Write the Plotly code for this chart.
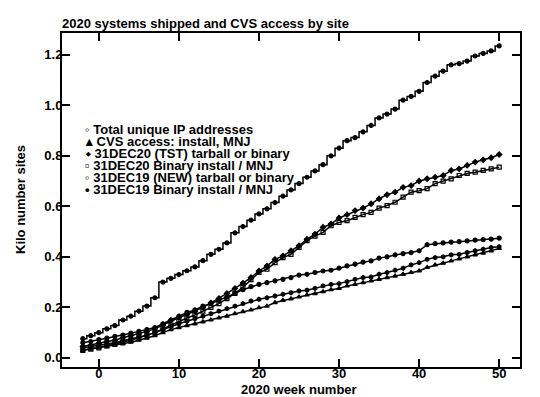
import plotly.graph_objects as go

weeks = list(range(-2, 51))

total_ip = [0.076, 0.088, 0.100, 0.115, 0.128, 0.150, 0.165, 0.185, 0.205, 0.238,
            0.300, 0.315, 0.330, 0.345, 0.360, 0.385, 0.410, 0.430, 0.455, 0.495,
            0.520, 0.545, 0.570, 0.590, 0.615, 0.640, 0.665, 0.690, 0.715, 0.740,
            0.765, 0.800, 0.830, 0.860, 0.872, 0.895, 0.920, 0.950, 0.965, 0.985,
            1.020, 1.035, 1.055, 1.090, 1.115, 1.135, 1.160, 1.165, 1.175, 1.195,
            1.205, 1.215, 1.235]

cvs_access = [0.030, 0.035, 0.040, 0.045, 0.050, 0.055, 0.062, 0.070, 0.078, 0.088,
              0.100, 0.112, 0.120, 0.128, 0.135, 0.143, 0.150, 0.158, 0.165, 0.175,
              0.183, 0.190, 0.199, 0.205, 0.219, 0.228, 0.234, 0.241, 0.249, 0.254,
              0.262, 0.270, 0.275, 0.285, 0.291, 0.298, 0.305, 0.311, 0.318, 0.324,
              0.331, 0.338, 0.344, 0.358, 0.368, 0.375, 0.384, 0.392, 0.400, 0.408,
              0.415, 0.424, 0.433]

dec20_tst = [0.045, 0.050, 0.058, 0.065, 0.070, 0.080, 0.088, 0.095, 0.105, 0.115,
             0.130, 0.148, 0.160, 0.172, 0.185, 0.200, 0.218, 0.235, 0.255, 0.275,
             0.296, 0.318, 0.344, 0.364, 0.390, 0.404, 0.424, 0.444, 0.470, 0.490,
             0.517, 0.530, 0.554, 0.567, 0.583, 0.593, 0.610, 0.630, 0.646, 0.656,
             0.675, 0.682, 0.700, 0.709, 0.715, 0.722, 0.742, 0.748, 0.762, 0.775,
             0.784, 0.792, 0.805]

dec20_bin = [0.030, 0.035, 0.040, 0.048, 0.055, 0.062, 0.070, 0.080, 0.090, 0.100,
             0.115, 0.130, 0.145, 0.158, 0.170, 0.185, 0.200, 0.215, 0.235, 0.255,
             0.280, 0.310, 0.338, 0.351, 0.377, 0.397, 0.410, 0.437, 0.464, 0.482,
             0.497, 0.523, 0.536, 0.543, 0.556, 0.567, 0.576, 0.593, 0.603, 0.616,
             0.636, 0.656, 0.662, 0.670, 0.690, 0.700, 0.709, 0.722, 0.730, 0.735,
             0.742, 0.748, 0.755]

dec19_new = [0.060, 0.065, 0.072, 0.078, 0.085, 0.090, 0.098, 0.105, 0.112, 0.120,
             0.135, 0.150, 0.165, 0.180, 0.190, 0.205, 0.215, 0.228, 0.240, 0.255,
             0.270, 0.282, 0.291, 0.298, 0.305, 0.311, 0.318, 0.328, 0.331, 0.338,
             0.344, 0.347, 0.355, 0.364, 0.371, 0.379, 0.384, 0.395, 0.400, 0.408,
             0.413, 0.417, 0.424, 0.448, 0.452, 0.455, 0.458, 0.460, 0.463, 0.466,
             0.468, 0.470, 0.474]

dec19_bin = [0.040, 0.045, 0.050, 0.055, 0.060, 0.068, 0.075, 0.082, 0.090, 0.100,
             0.112, 0.125, 0.135, 0.145, 0.155, 0.165, 0.175, 0.185, 0.195, 0.205,
             0.215, 0.225, 0.232, 0.238, 0.245, 0.252, 0.258, 0.265, 0.268, 0.275,
             0.285, 0.291, 0.294, 0.302, 0.311, 0.318, 0.320, 0.331, 0.338, 0.347,
             0.355, 0.368, 0.377, 0.390, 0.397, 0.400, 0.408, 0.410, 0.417, 0.424,
             0.430, 0.437, 0.440]

series_names = ["Total unique IP addresses",
                "CVS access: install, MNJ",
                "31DEC20 (TST) tarball or binary",
                "31DEC20 Binary install / MNJ",
                "31DEC19 (NEW) tarball or binary",
                "31DEC19 Binary install / MNJ"]
legend_glyphs = ["\u25e6", "\u25b4", "\u2b29", "\u25ab", "\u25e6", "\u2022"]

x_ticks = [0, 10, 20, 30, 40, 50]
y_ticks = [0.0, 0.2, 0.4, 0.6, 0.8, 1.0, 1.2]

title_text = "2020 systems shipped and CVS access by site"
x_title = "2020 week number"
y_title = "Kilo number sites"

FONT = dict(family="Liberation Sans, Arial, sans-serif", size=13, color="black", weight="bold")

series = [total_ip, cvs_access, dec20_tst, dec20_bin, dec19_new, dec19_bin]
symbols = ["circle", "triangle-up", "diamond", "square-open", "circle", "hexagon"]
shapes = ["hvh", "linear", "linear", "linear", "linear", "linear"]

fig = go.Figure()
for vals, sym, shp, name in zip(series, symbols, shapes, series_names):
    fig.add_trace(go.Scatter(
        x=weeks, y=vals, name=name, mode="lines+markers",
        line=dict(color="black", width=1.5, shape=shp),
        marker=dict(symbol=sym, size=4, color="black",
                    line=dict(color="black", width=1.2)),
        showlegend=False,
    ))

L, R, T, B = 54, 28, 25, 38
W, H = 540, 397
pw, ph = W - L - R, H - T - B

def px_x(px):
    return (px - L) / pw

def px_y(py):
    return (H - B - py) / ph

# legend drawn as text lines
leg_x, leg_y0, leg_dy = 75, 121.5, 11.9
for i, (g, name) in enumerate(zip(legend_glyphs, series_names)):
    fig.add_annotation(
        text=f"{g} {name}", xref="paper", yref="paper",
        x=px_x(leg_x), y=px_y(leg_y0 + i * leg_dy),
        xanchor="left", yanchor="middle", showarrow=False, font=FONT,
    )

# axis titles
fig.add_annotation(text=x_title, xref="paper", yref="paper",
                   x=px_x(291), y=px_y(381), xanchor="center", yanchor="middle",
                   showarrow=False, font=FONT)
fig.add_annotation(text=y_title, xref="paper", yref="paper",
                   x=px_x(12), y=0.5, xanchor="center", yanchor="middle",
                   textangle=-90, showarrow=False, font=FONT)

fig.update_layout(
    template="none",
    width=W, height=H,
    margin=dict(l=L, r=R, t=T, b=B, autoexpand=False),
    paper_bgcolor="white", plot_bgcolor="white",
    font=FONT,
    title=dict(text=title_text,
               x=0, xref="paper", xanchor="left",
               y=1 - 15 / H, yref="container", yanchor="middle",
               font=FONT),
    showlegend=False,
)
fig.update_xaxes(
    range=[-4.6, 52.6], tickvals=x_ticks, ticktext=[str(t) for t in x_ticks],
    ticks="inside", ticklen=8, tickwidth=2, tickcolor="black",
    showline=True, linewidth=2, linecolor="black", mirror="ticks",
    showgrid=False, zeroline=False, automargin=False,
    tickfont=FONT, ticklabelstandoff=-7,
)
fig.update_yaxes(
    range=[-0.036, 1.286], tickvals=y_ticks, ticktext=[f"{t:.1f}" for t in y_ticks],
    ticks="inside", ticklen=8, tickwidth=2, tickcolor="black",
    showline=True, linewidth=2, linecolor="black", mirror="ticks",
    showgrid=False, zeroline=False, automargin=False,
    tickfont=FONT, ticklabelstandoff=-5,
)

fig.write_html("out.html")
